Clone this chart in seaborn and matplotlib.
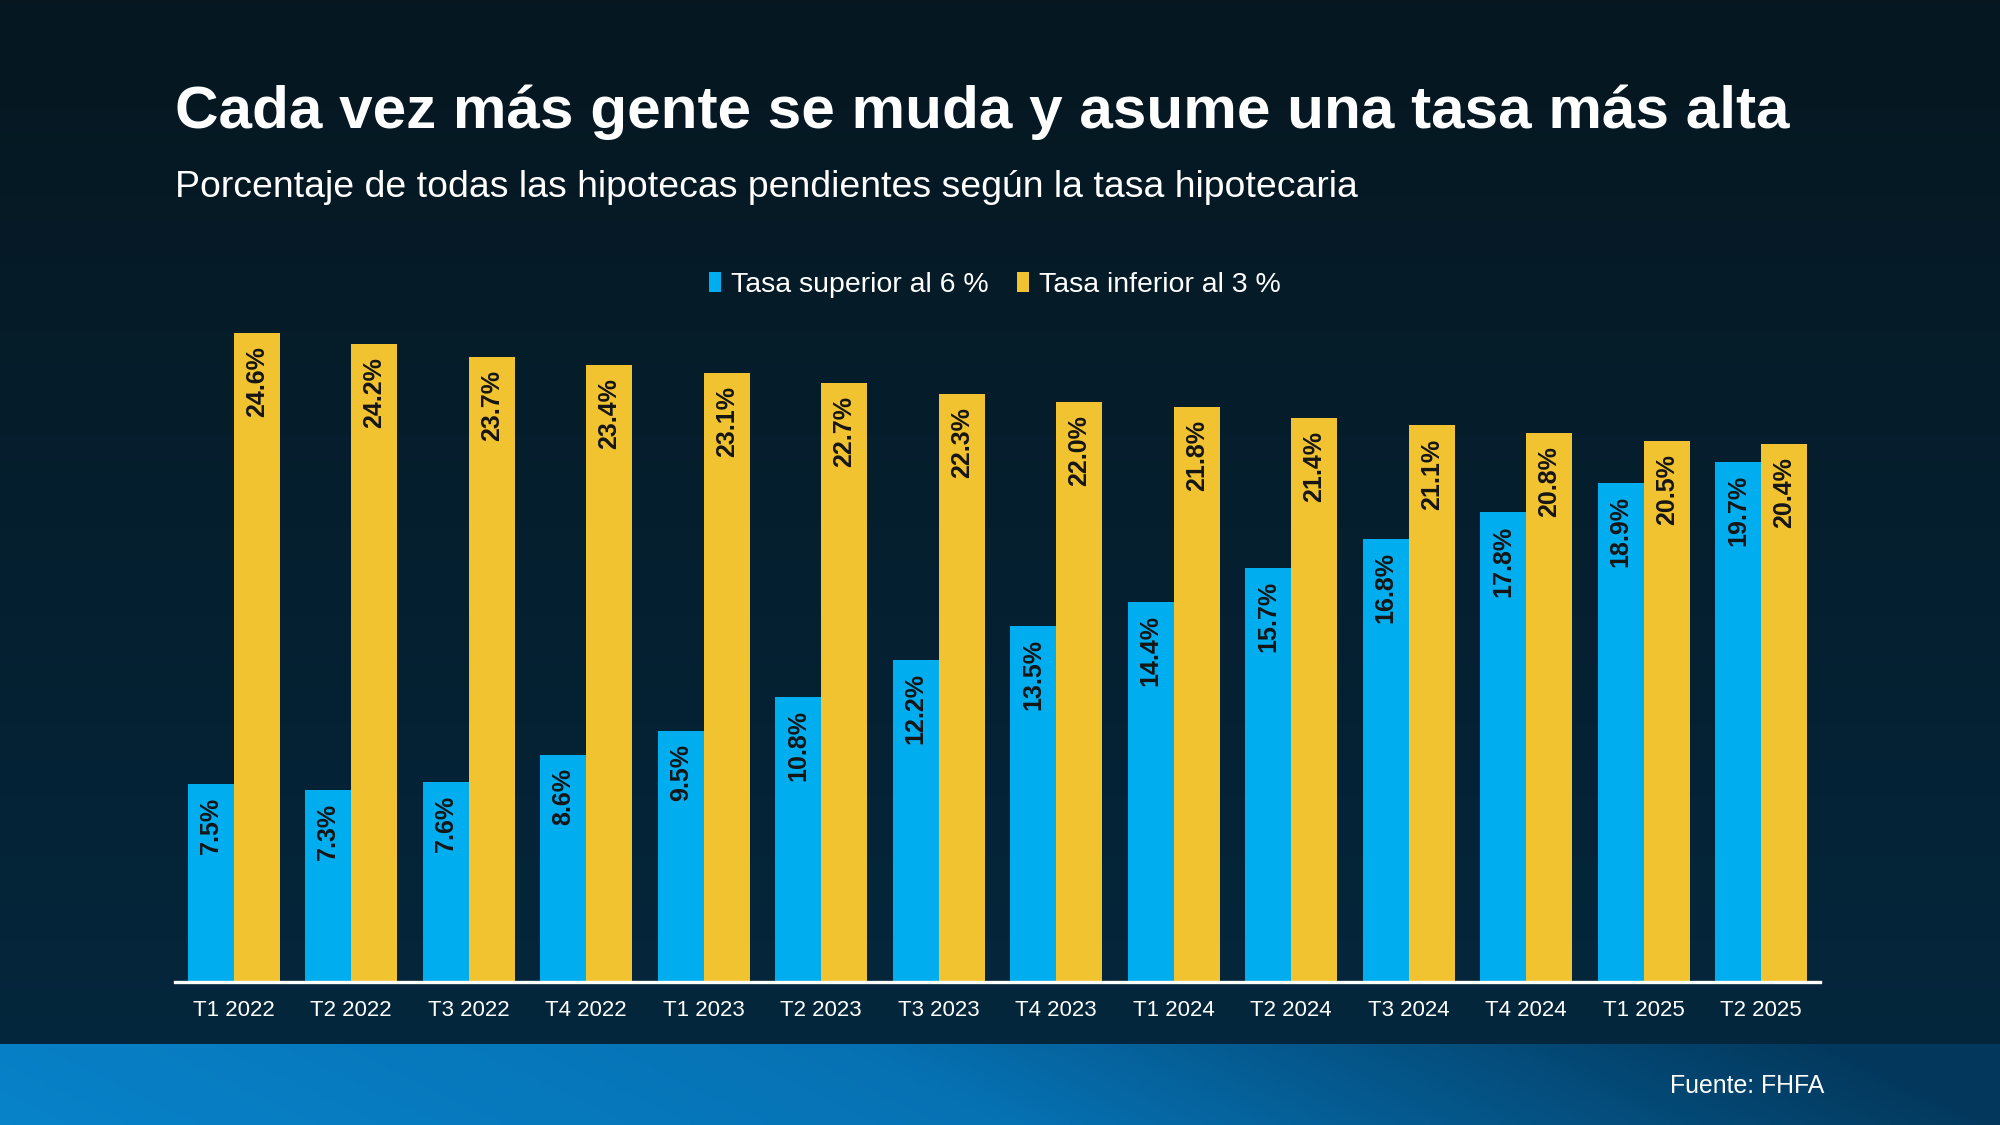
import numpy as np
import pandas as pd
import matplotlib
matplotlib.use("Agg")
import matplotlib.pyplot as plt
from matplotlib.colors import LinearSegmentedColormap
import seaborn as sns

# data
trimestres = ["T1 2022", "T2 2022", "T3 2022", "T4 2022", "T1 2023", "T2 2023", "T3 2023",
              "T4 2023", "T1 2024", "T2 2024", "T3 2024", "T4 2024", "T1 2025", "T2 2025"]
sobre_6 = [7.5, 7.3, 7.6, 8.6, 9.5, 10.8, 12.2, 13.5, 14.4, 15.7, 16.8, 17.8, 18.9, 19.7]
bajo_3 = [24.6, 24.2, 23.7, 23.4, 23.1, 22.7, 22.3, 22.0, 21.8, 21.4, 21.1, 20.8, 20.5, 20.4]
series = ["Tasa superior al 6 %", "Tasa inferior al 3 %"]

titulo = "Cada vez más gente se muda y asume una tasa más alta"
subtitulo = "Porcentaje de todas las hipotecas pendientes según la tasa hipotecaria"
fuente = "Fuente: FHFA"

df = pd.DataFrame({
    "trimestre": trimestres * 2,
    "valor": sobre_6 + bajo_3,
    "serie": [series[0]] * len(trimestres) + [series[1]] * len(trimestres),
})

sns.set_theme(style="white")
plt.rcParams["font.family"] = ["Liberation Sans", "DejaVu Sans"]

fig = plt.figure(figsize=(20, 11.25), dpi=100)

# background gradient (dark navy, slightly lighter at bottom)
bg = fig.add_axes([0, 0, 1, 1], zorder=-10)
bg_cmap = LinearSegmentedColormap.from_list("bg", ["#061720", "#04283f"])
bg.imshow(np.linspace(0, 1, 256).reshape(-1, 1), aspect="auto", cmap=bg_cmap,
          extent=[0, 1, 0, 1], origin="upper")
bg.axis("off")

# bottom band with blue gradient
band = fig.add_axes([0, 0, 1, 81 / 1125], zorder=-9)
band_cmap = LinearSegmentedColormap.from_list("band", ["#0882c9", "#0672b4", "#03385c"])
gx, gy = np.meshgrid(np.linspace(0, 1, 400), np.linspace(0, 1, 20))
band.imshow(np.clip(gx + 0.08 * gy, 0, 1), aspect="auto", cmap=band_cmap,
            extent=[0, 1, 0, 1], origin="lower")
band.axis("off")

ax = fig.add_axes([0.0875, 0.127, 0.8225, 0.5863])
sns.barplot(data=df, x="trimestre", y="valor", hue="serie",
            palette=["#00aeef", "#f2c330"], width=0.78, saturation=1,
            linewidth=0, edgecolor="none", ax=ax, zorder=3)
ax.set_facecolor("none")
ax.set_xlim(-0.5, len(trimestres) - 0.5)
ax.set_ylim(0, 25)
ax.set_xlabel("")
ax.set_ylabel("")
ax.set_yticks([])
for s in ["top", "left", "right"]:
    ax.spines[s].set_visible(False)
ax.spines["bottom"].set_color("white")
ax.spines["bottom"].set_linewidth(2.4)
ax.spines["bottom"].set_zorder(5)
ax.tick_params(axis="x", length=0, pad=13, labelsize=16, labelcolor="white")

# value labels inside bars, rotated
for cont, vals in zip(ax.containers, [sobre_6, bajo_3]):
    for patch, v in zip(cont.patches, vals):
        ax.annotate(f"{v:.1f}%", (patch.get_x() + patch.get_width() / 2, patch.get_height()),
                    xytext=(0, -13), textcoords="offset pixels", rotation=90,
                    ha="center", va="top", fontsize=18, fontweight="bold",
                    color="#151515", zorder=6)

ax.legend(loc="center", bbox_to_anchor=(0.4975, 0.747), bbox_transform=fig.transFigure,
          ncol=2, frameon=False, fontsize=20.5, labelcolor="white",
          handlelength=0.42, handleheight=0.7, handletextpad=0.35, columnspacing=1.0)

fig.text(0.0875, 0.886, titulo, fontsize=43.4, fontweight="bold", color="white",
         ha="left", va="baseline")
fig.text(0.0875, 0.825, subtitulo, fontsize=26.9, color="white", ha="left", va="baseline")
fig.text(0.912, 0.0345, fuente, fontsize=17.9, color="white", ha="right", va="center")

fig.savefig("out.png", dpi=100)
